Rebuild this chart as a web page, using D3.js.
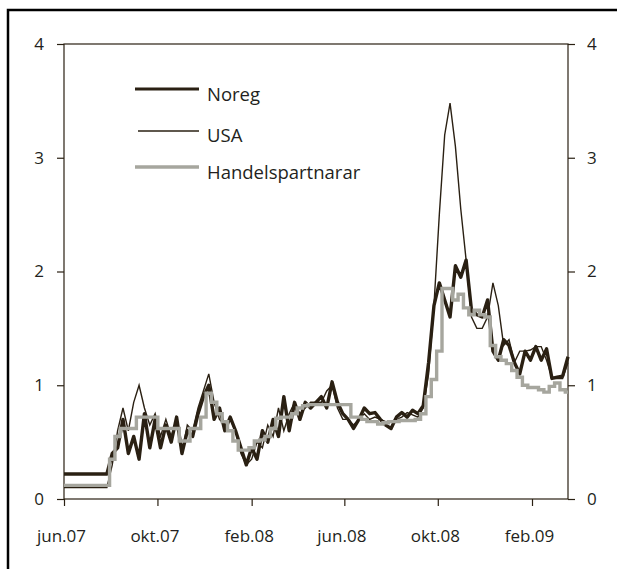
<!DOCTYPE html>
<html><head><meta charset="utf-8">
<script src="https://cdn.jsdelivr.net/npm/d3@7"></script>
<style>
html,body{margin:0;padding:0;background:#fff;}
svg{display:block;font-family:"Open Sans",sans-serif;}
</style></head>
<body><svg id="c" width="617" height="569"></svg>
<script>
// weekly observations from 2007-06-01
const startDate = "2007-06-01";
const noreg = [0.22,0.22,0.22,0.22,0.22,0.22,0.22,0.22,0.22,0.4,0.45,0.7,0.4,0.55,0.35,0.75,0.45,0.7,0.45,0.65,0.5,0.72,0.4,0.6,0.55,0.75,0.9,1.0,0.7,0.8,0.6,0.72,0.6,0.45,0.3,0.45,0.35,0.6,0.5,0.7,0.55,0.9,0.6,0.85,0.7,0.85,0.8,0.85,0.9,0.8,1.03,0.85,0.75,0.7,0.62,0.7,0.8,0.75,0.76,0.7,0.65,0.62,0.72,0.76,0.72,0.78,0.75,0.82,1.2,1.7,1.9,1.75,1.6,2.05,1.95,2.1,1.66,1.62,1.6,1.75,1.3,1.22,1.4,1.35,1.2,1.1,1.3,1.22,1.34,1.22,1.32,1.06,1.07,1.08,1.25];
const usa = [0.1,0.1,0.1,0.1,0.1,0.1,0.1,0.1,0.1,0.3,0.6,0.8,0.6,0.85,1.0,0.8,0.65,0.75,0.55,0.7,0.55,0.7,0.4,0.65,0.6,0.8,0.95,1.1,0.85,0.7,0.65,0.7,0.6,0.4,0.3,0.35,0.5,0.45,0.65,0.55,0.8,0.6,0.75,0.85,0.75,0.8,0.85,0.85,0.85,0.95,1.0,0.8,0.7,0.7,0.65,0.7,0.75,0.7,0.72,0.7,0.68,0.68,0.7,0.72,0.76,0.74,0.72,0.8,1.1,1.7,2.5,3.2,3.48,3.1,2.55,2.1,1.6,1.5,1.5,1.6,1.9,1.7,1.35,1.4,1.2,1.3,1.3,1.31,1.34,1.34,1.22,1.07,1.06,1.06,1.2];
const partners = [0.12,0.12,0.12,0.12,0.12,0.12,0.12,0.12,0.12,0.35,0.55,0.62,0.62,0.62,0.72,0.72,0.72,0.72,0.62,0.62,0.62,0.62,0.51,0.51,0.62,0.62,0.72,0.93,0.85,0.75,0.68,0.6,0.51,0.43,0.43,0.45,0.51,0.52,0.55,0.62,0.71,0.72,0.72,0.75,0.8,0.82,0.83,0.83,0.83,0.83,0.83,0.83,0.83,0.83,0.72,0.72,0.7,0.68,0.68,0.66,0.67,0.68,0.68,0.69,0.69,0.69,0.7,0.75,0.9,1.05,1.3,1.85,1.85,1.75,1.8,1.68,1.62,1.66,1.62,1.6,1.35,1.25,1.22,1.19,1.13,1.07,1.0,0.98,0.98,0.96,0.94,0.99,1.02,0.96,0.94];
const seriesNames = ["Noreg","USA","Handelspartnarar"];
const yTicks = [0,1,2,3,4];
const xTickDates = ["2007-06-01","2007-10-01","2008-02-01","2008-06-01","2008-10-01","2009-02-01"];
const xTickLabels = ["jun.07","okt.07","feb.08","jun.08","okt.08","feb.09"];
const xDomain = ["2007-06-01","2009-03-20"];

const dark = "#2a2013", grey = "#a6a69e";
const svg = d3.select("#c");
const parse = d3.utcParse("%Y-%m-%d");
const t0 = parse(startDate);
const dates = noreg.map((_, i) => d3.utcDay.offset(t0, 7 * i));

const L = 64, R = 568, T = 44, B = 499;
const x = d3.scaleUtc().domain(xDomain.map(parse)).range([L, R]);
const y = d3.scaleLinear().domain([0, 4]).range([B, T]);

// outer border
svg.append("rect").attr("x", 8).attr("y", 10).attr("width", 620).attr("height", 580)
  .attr("fill", "none").attr("stroke", "#000").attr("stroke-width", 2.5);

// frame
svg.append("rect").attr("x", L).attr("y", T).attr("width", R - L).attr("height", B - T)
  .attr("fill", "none").attr("stroke", dark).attr("stroke-width", 1.2);

const fs = "17px";
const ga = svg.append("g").attr("transform", `translate(${L},0)`)
  .call(d3.axisLeft(y).tickValues(yTicks).tickSize(7).tickPadding(13).tickFormat(d3.format("d")));
const gb = svg.append("g").attr("transform", `translate(${R},0)`)
  .call(d3.axisRight(y).tickValues(yTicks).tickSize(7).tickPadding(12).tickFormat(d3.format("d")));
const gx = svg.append("g").attr("transform", `translate(0,${B})`)
  .call(d3.axisBottom(x).tickValues(xTickDates.map(parse)).tickSize(7).tickPadding(24)
    .tickFormat((d, i) => xTickLabels[i]));
[ga, gb, gx].forEach(g => {
  g.select(".domain").remove();
  g.selectAll("line").attr("stroke", dark).attr("stroke-width", 1.2);
  g.selectAll("text").attr("fill", "#231f20").style("font-size", fs).style("font-family", '"Open Sans",sans-serif');
});
gx.selectAll("text").attr("dx", "-3");

const line = (vals, curve) => d3.line().x((d, i) => x(dates[i])).y(d => y(d)).curve(curve)(vals);

svg.append("path").attr("d", line(noreg, d3.curveLinear)).attr("fill", "none")
  .attr("stroke", dark).attr("stroke-width", 3.4).attr("stroke-linejoin", "round");
svg.append("path").attr("d", line(usa, d3.curveLinear)).attr("fill", "none")
  .attr("stroke", dark).attr("stroke-width", 1.4);
svg.append("path").attr("d", line(partners, d3.curveStep)).attr("fill", "none")
  .attr("stroke", grey).attr("stroke-width", 3.4);

// legend
const leg = [
  {name: seriesNames[0], c: dark, w: 3, ly: 89, ty: 101, x1: 135},
  {name: seriesNames[1], c: dark, w: 1.4, ly: 131, ty: 142, x1: 138},
  {name: seriesNames[2], c: grey, w: 3.4, ly: 167, ty: 179, x1: 135}
];
leg.forEach(d => {
  svg.append("line").attr("x1", d.x1).attr("x2", 199).attr("y1", d.ly).attr("y2", d.ly)
    .attr("stroke", d.c).attr("stroke-width", d.w);
  svg.append("text").attr("x", 207).attr("y", d.ty).text(d.name)
    .attr("fill", "#231f20").style("font-size", "18.5px");
});
</script></body></html>
